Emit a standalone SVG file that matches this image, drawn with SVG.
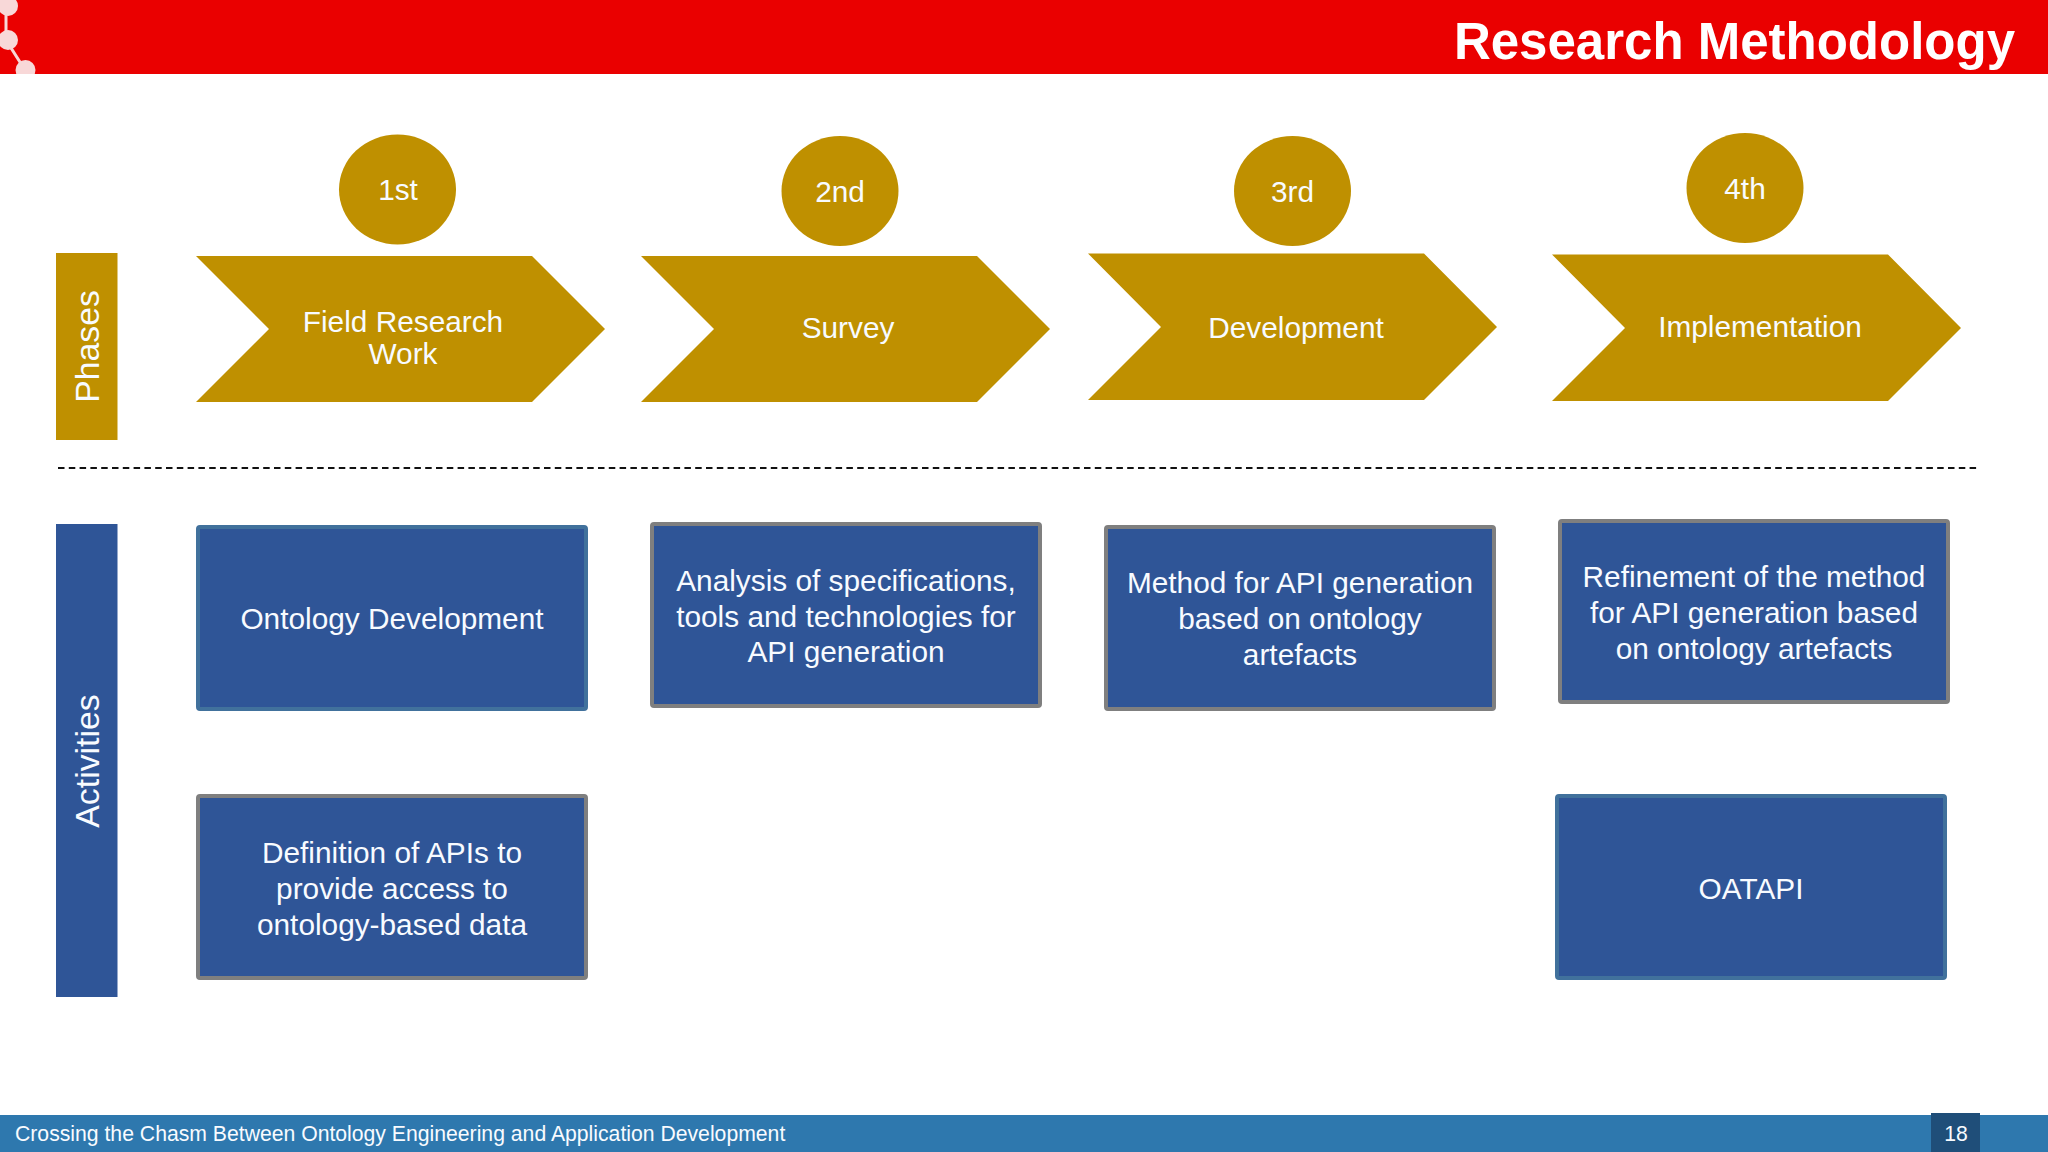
<svg xmlns="http://www.w3.org/2000/svg" width="2048" height="1152" viewBox="0 0 2048 1152">
<style>
text{font-family:"Liberation Sans",Arial,sans-serif;fill:#f8fbff;text-anchor:middle}
.t{font-size:29.800px}
.v{font-size:33.800px}
.g{fill:#bf9000}
.b{fill:#2f5597;stroke-width:4}
.bb{stroke:#41719c}
.bg{stroke:#7f7f7f}
.bar{fill:#2f5597}
</style>
<rect width="2048" height="1152" fill="#fff"/>
<g id="header">
<rect width="2048" height="74" fill="#ea0000"/>
<g fill="#f8d8d8"><path d="M6 5V40L25 70" fill="none" stroke="#f8d8d8" stroke-width="3"/><circle cx="8" cy="6" r="10"/><circle cx="8" cy="40" r="10"/><circle cx="25.500" cy="70" r="10"/></g>
<rect y="74" width="60" height="8" fill="#fff"/>
<text x="2015" y="59" font-size="51" font-weight="700" style="text-anchor:end;fill:#fff">Research Methodology</text>
</g>
<g id="phases-label"><rect x="56" y="253" width="61.500" height="187" fill="#bf9000"/><text class="v" transform="translate(99 346.500) rotate(-90)">Phases</text></g>
<g id="activities-label"><rect class="bar" x="56" y="524" width="61.500" height="473"/><text class="v" transform="translate(99 761) rotate(-90)">Activities</text></g>
<g id="phase-1"><polygon class="g" points="196,256 532,256 605,329 532,402 196,402 269,329"/><text class="t" x="403" y="332">Field Research</text><text class="t" x="403" y="364">Work</text></g>
<g id="phase-2"><polygon class="g" points="641,256 977,256 1050,329 977,402 641,402 714,329"/><text class="t" x="848" y="338">Survey</text></g>
<g id="phase-3"><polygon class="g" points="1088,253.500 1424,253.500 1497,327 1424,400 1088,400 1161,327"/><text class="t" x="1296" y="338">Development</text></g>
<g id="phase-4"><polygon class="g" points="1552,254.500 1888,254.500 1961,328 1888,401 1552,401 1625,328"/><text class="t" x="1760" y="337">Implementation</text></g>
<g id="badge-1"><ellipse class="g" cx="397.500" cy="189.500" rx="58.500" ry="55"/><text class="t" x="398" y="200">1st</text></g>
<g id="badge-2"><ellipse class="g" cx="840" cy="191" rx="58.500" ry="55"/><text class="t" x="840" y="202">2nd</text></g>
<g id="badge-3"><ellipse class="g" cx="1292.500" cy="191" rx="58.500" ry="55"/><text class="t" x="1292.500" y="202">3rd</text></g>
<g id="badge-4"><ellipse class="g" cx="1745" cy="188" rx="58.500" ry="55"/><text class="t" x="1745" y="199">4th</text></g>
<g id="separator"><line x1="58" y1="468" x2="1979" y2="468" stroke="#111" stroke-width="2" stroke-dasharray="6.500 4.300"/></g>
<g id="activity-1"><rect class="b bb" x="198" y="527" width="388" height="182" rx="2"/><text class="t" x="392" y="629">Ontology Development</text></g>
<g id="activity-2"><rect class="b bg" x="652" y="524" width="388" height="182" rx="2"/><text class="t" x="846" y="590.500">Analysis of specifications,</text><text class="t" x="846" y="626.500">tools and technologies for</text><text class="t" x="846" y="662">API generation</text></g>
<g id="activity-3"><rect class="b bg" x="1106" y="527" width="388" height="182" rx="2"/><text class="t" x="1300" y="593">Method for API generation</text><text class="t" x="1300" y="629">based on ontology</text><text class="t" x="1300" y="665">artefacts</text></g>
<g id="activity-4"><rect class="b bg" x="1560" y="521" width="388" height="181" rx="2"/><text class="t" x="1754" y="587">Refinement of the method</text><text class="t" x="1754" y="623">for API generation based</text><text class="t" x="1754" y="659">on ontology artefacts</text></g>
<g id="activity-5"><rect class="b bg" x="198" y="796" width="388" height="182" rx="2"/><text class="t" x="392" y="862.500">Definition of APIs to</text><text class="t" x="392" y="898.500">provide access to</text><text class="t" x="392" y="934.500">ontology-based data</text></g>
<g id="activity-6"><rect class="b bb" x="1557" y="796" width="388" height="182" rx="2"/><text class="t" x="1751" y="899">OATAPI</text></g>
<g id="footer"><rect y="1115" width="2048" height="37" fill="#2e78ae"/><rect x="1931" y="1113" width="49" height="39" fill="#1f4e79"/><text x="15" y="1141" font-size="21.200" style="text-anchor:start">Crossing the Chasm Between Ontology Engineering and Application Development</text><text x="1956" y="1141" font-size="21.200">18</text></g>
</svg>
